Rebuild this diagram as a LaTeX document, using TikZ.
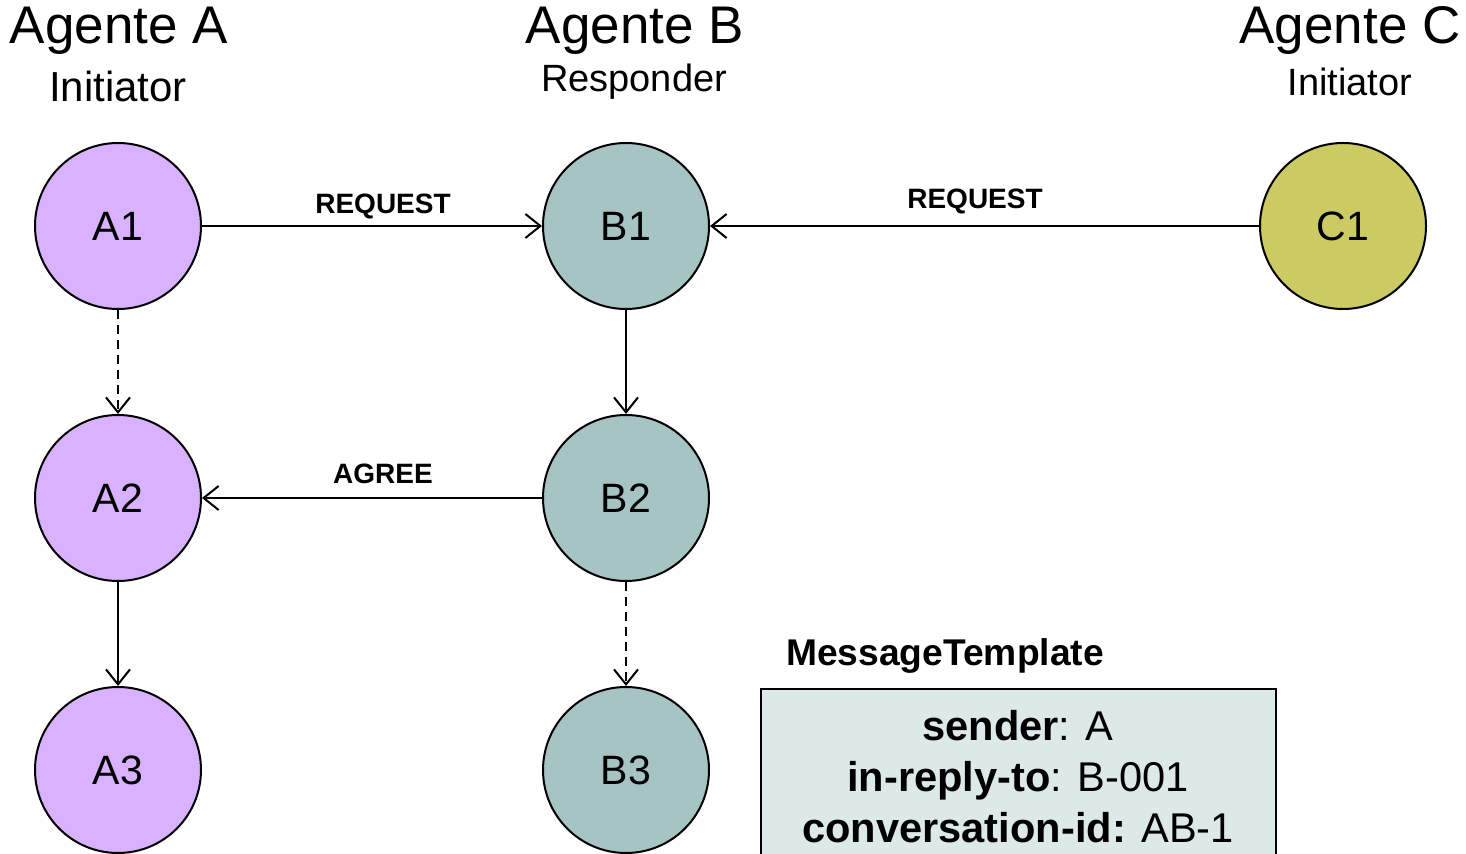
\documentclass[tikz,border=0pt]{standalone}
\usepackage{fontspec}
\setmainfont{Liberation Sans}
\usetikzlibrary{arrows.meta}
\definecolor{agA}{RGB}{216,178,255}
\definecolor{agB}{RGB}{165,196,195}
\definecolor{agC}{RGB}{204,202,98}
\definecolor{tplfill}{RGB}{221,232,232}
\newcommand{\fs}[1]{\fontsize{#1}{1.2\dimexpr#1pt\relax}\selectfont}
\newcommand{\fsl}[2]{\fontsize{#1}{#2}\selectfont}
\tikzset{
  state/.style={circle, draw=black, line width=1pt, minimum size=83pt, inner sep=0pt,
                font=\fs{20.5}},
  msg/.style={line width=1pt, -{Straight Barb[length=7.5pt,width=12pt,line width=1pt]}},
  flow/.style={msg},
  later/.style={msg, dash pattern=on 4.5pt off 3pt},
  lbl/.style={font=\bfseries\fs{14}, inner sep=0pt},
  head/.style={font=\fs{26.5}, inner sep=0pt},
  role/.style={font=\fs{19}, inner sep=0pt},
}
\begin{document}
\begin{tikzpicture}[x=0.5pt, y=-0.5pt]
\useasboundingbox (0,0) rectangle (1466,854);
\clip (0,0) rectangle (1466,854);

% agent headers
\node[head] (hA) at (119,31) {Agente A};
\node[role, font=\fs{21}] (rA) at (118,86) {Initiator};
\node[head] (hB) at (635,31) {Agente B};
\node[role] (rB) at (634,82) {Responder};
\node[head] (hC) at (1350,31) {Agente C};
\node[role] (rC) at (1350,82) {Initiator};

% states
\node[state, fill=agA] (A1) at (118,226) {A1};
\node[state, fill=agA] (A2) at (118,498) {A2};
\node[state, fill=agA] (A3) at (118,770) {A3};
\node[state, fill=agB] (B1) at (626,226) {B1};
\node[state, fill=agB] (B2) at (626,498) {B2};
\node[state, fill=agB] (B3) at (626,770) {B3};
\node[state, fill=agC] (C1) at (1343,226) {C1};

% messages between agents
\draw[msg] (A1) -- (B1);
\draw[msg] (C1) -- (B1);
\draw[msg] (B2) -- (A2);
\node[lbl] (l1) at (383,206) {REQUEST};
\node[lbl] (l2) at (975,201) {REQUEST};
\node[lbl] (l3) at (383,474) {AGREE};

% internal transitions
\draw[later] (A1) -- (A2);
\draw[flow] (A2) -- (A3);
\draw[flow] (B1) -- (B2);
\draw[later] (B2) -- (B3);

% message template
\node[font=\bfseries\fs{18.6}, inner sep=0pt] (tt) at (945,656) {MessageTemplate};
\draw[fill=tplfill, line width=1pt] (761,689) rectangle (1276,900);
\node[font=\fsl{20.8}{25.5pt}, align=center, inner sep=0pt] (tb) at (1018,777)
  {\textbf{sender}: A\\ \textbf{in-reply-to}: B-001\\ \textbf{conversation-id:} AB-1};
\end{tikzpicture}
\end{document}
